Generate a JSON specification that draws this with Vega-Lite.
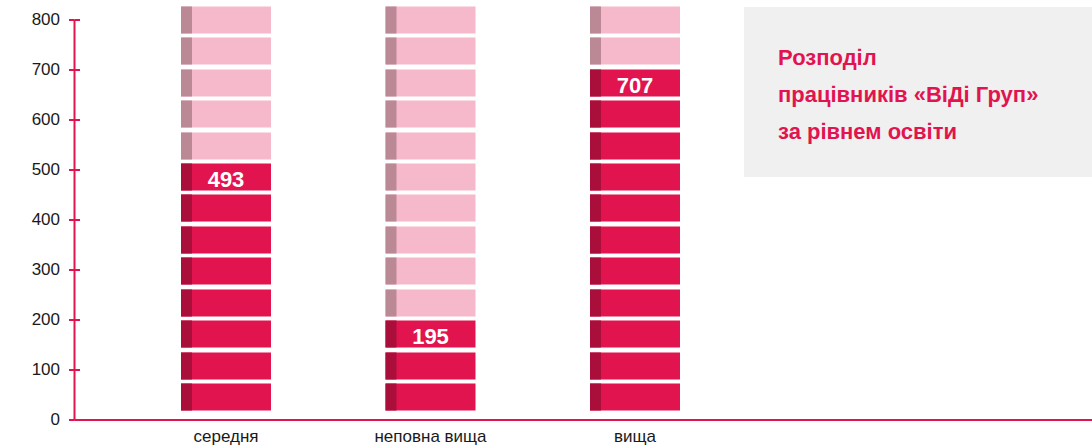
{
  "$schema": "https://vega.github.io/schema/vega-lite/v6.json",
  "autosize": {"type": "none"},
  "width": 1018,
  "height": 400,
  "padding": {"left": 74, "top": 19.5, "right": 0, "bottom": 28.5},
  "background": "white",
  "config": {
    "view": {"stroke": null},
    "style": {"guide-title": {"dy": 7}}
  },
  "data": {
    "values": [
      {"cat": "середня", "lo": 18, "hi": 72, "status": "filled"},
      {"cat": "середня", "lo": 80, "hi": 134, "status": "filled"},
      {"cat": "середня", "lo": 144, "hi": 198, "status": "filled"},
      {"cat": "середня", "lo": 206, "hi": 260, "status": "filled"},
      {"cat": "середня", "lo": 270, "hi": 324, "status": "filled"},
      {"cat": "середня", "lo": 332, "hi": 386, "status": "filled"},
      {"cat": "середня", "lo": 396, "hi": 450, "status": "filled"},
      {"cat": "середня", "lo": 458, "hi": 512, "status": "filled", "count": 493},
      {"cat": "середня", "lo": 520, "hi": 574, "status": "empty"},
      {"cat": "середня", "lo": 584, "hi": 638, "status": "empty"},
      {"cat": "середня", "lo": 646, "hi": 700, "status": "empty"},
      {"cat": "середня", "lo": 710, "hi": 764, "status": "empty"},
      {"cat": "середня", "lo": 772, "hi": 826, "status": "empty"},
      {"cat": "неповна вища", "lo": 18, "hi": 72, "status": "filled"},
      {"cat": "неповна вища", "lo": 80, "hi": 134, "status": "filled"},
      {"cat": "неповна вища", "lo": 144, "hi": 198, "status": "filled", "count": 195},
      {"cat": "неповна вища", "lo": 206, "hi": 260, "status": "empty"},
      {"cat": "неповна вища", "lo": 270, "hi": 324, "status": "empty"},
      {"cat": "неповна вища", "lo": 332, "hi": 386, "status": "empty"},
      {"cat": "неповна вища", "lo": 396, "hi": 450, "status": "empty"},
      {"cat": "неповна вища", "lo": 458, "hi": 512, "status": "empty"},
      {"cat": "неповна вища", "lo": 520, "hi": 574, "status": "empty"},
      {"cat": "неповна вища", "lo": 584, "hi": 638, "status": "empty"},
      {"cat": "неповна вища", "lo": 646, "hi": 700, "status": "empty"},
      {"cat": "неповна вища", "lo": 710, "hi": 764, "status": "empty"},
      {"cat": "неповна вища", "lo": 772, "hi": 826, "status": "empty"},
      {"cat": "вища", "lo": 18, "hi": 72, "status": "filled"},
      {"cat": "вища", "lo": 80, "hi": 134, "status": "filled"},
      {"cat": "вища", "lo": 144, "hi": 198, "status": "filled"},
      {"cat": "вища", "lo": 206, "hi": 260, "status": "filled"},
      {"cat": "вища", "lo": 270, "hi": 324, "status": "filled"},
      {"cat": "вища", "lo": 332, "hi": 386, "status": "filled"},
      {"cat": "вища", "lo": 396, "hi": 450, "status": "filled"},
      {"cat": "вища", "lo": 458, "hi": 512, "status": "filled"},
      {"cat": "вища", "lo": 520, "hi": 574, "status": "filled"},
      {"cat": "вища", "lo": 584, "hi": 638, "status": "filled"},
      {"cat": "вища", "lo": 646, "hi": 700, "status": "filled", "count": 707},
      {"cat": "вища", "lo": 710, "hi": 764, "status": "empty"},
      {"cat": "вища", "lo": 772, "hi": 826, "status": "empty"}
    ]
  },
  "encoding": {
    "x": {
      "field": "cat",
      "type": "nominal",
      "sort": ["середня", "неповна вища", "вища"],
      "scale": {"paddingInner": 0, "paddingOuter": 0.989, "align": 0.123},
      "axis": {
        "title": null,
        "ticks": false,
        "tickSize": 0,
        "domainColor": "#e2144f",
        "domainWidth": 2,
        "labelAngle": 0,
        "labelFont": "Liberation Sans, Arial, sans-serif",
        "labelFontSize": 17,
        "labelColor": "#1a1a1a",
        "labelPadding": 9
      }
    }
  },
  "layer": [
    {
      "mark": {"type": "bar", "width": 90, "clip": false},
      "encoding": {
        "y": {
          "field": "lo",
          "type": "quantitative",
          "scale": {"domain": [0, 800], "nice": false, "zero": true},
          "axis": {
            "title": null,
            "values": [0, 100, 200, 300, 400, 500, 600, 700, 800],
            "domainColor": "#e2144f",
            "domainWidth": 2,
            "tickColor": "#e2144f",
            "tickWidth": 2,
            "tickSize": 5.5,
            "grid": true,
            "gridColor": "#e2144f",
            "gridWidth": 2,
            "gridDash": [5.5, 3000],
            "labelFont": "Liberation Sans, Arial, sans-serif",
            "labelFontSize": 17,
            "labelColor": "#1a1a1a",
            "labelPadding": 9
          }
        },
        "y2": {"field": "hi"},
        "color": {
          "field": "status",
          "type": "nominal",
          "scale": {"domain": ["filled", "empty"], "range": ["#e2144f", "#f6b9cb"]},
          "legend": {
            "orient": "none",
            "legendX": 670,
            "legendY": -12.5,
            "title": ["Розподіл", "працівників «ВіДі Груп»", "за рівнем освіти"],
            "titleFont": "Liberation Sans, Arial, sans-serif",
            "titleFontSize": 22,
            "titleFontWeight": "bold",
            "titleColor": "#e2144f",
            "titleLineHeight": 37,
            "titlePadding": 0,
            "titleLimit": 500,
            "fillColor": "#f0f0f0",
            "padding": 34,
            "symbolOpacity": 0,
            "symbolSize": 1,
            "symbolStrokeWidth": 0,
            "labelOpacity": 0,
            "labelFontSize": 1,
            "labelOffset": 300,
            "rowPadding": 0
          }
        }
      }
    },
    {
      "mark": {"type": "bar", "width": 11, "xOffset": -39.5, "clip": false},
      "encoding": {
        "y": {"field": "lo", "type": "quantitative"},
        "y2": {"field": "hi"},
        "fill": {
          "field": "status",
          "type": "nominal",
          "scale": {"domain": ["filled", "empty"], "range": ["#a90f3a", "#bb8895"]},
          "legend": null
        }
      }
    },
    {
      "transform": [{"filter": "isValid(datum.count)"}],
      "mark": {
        "type": "text",
        "font": "Liberation Sans, Arial, sans-serif",
        "fontSize": 22,
        "fontWeight": "bold",
        "color": "white",
        "baseline": "alphabetic",
        "dy": -4,
        "clip": false
      },
      "encoding": {
        "y": {"field": "lo", "type": "quantitative"},
        "text": {"field": "count", "type": "quantitative"}
      }
    }
  ]
}
